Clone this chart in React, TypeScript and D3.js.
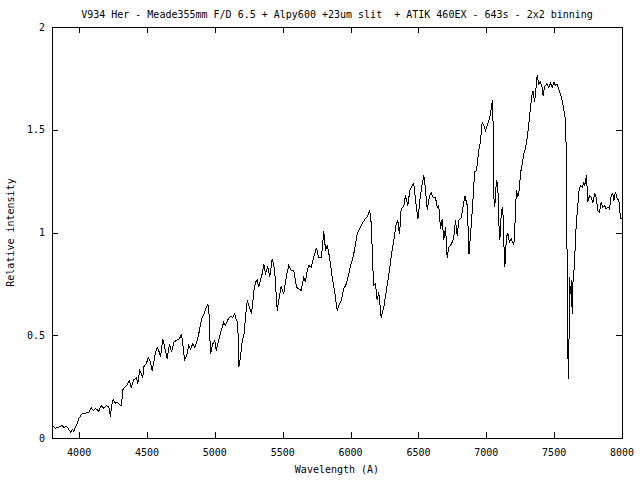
import React from 'react';
import * as d3 from 'd3';

const title = 'V934 Her - Meade355mm F/D 6.5 + Alpy600 +23um slit  + ATIK 460EX - 643s - 2x2 binning';
const xLabel = 'Wavelength (A)';
const yLabel = 'Relative intensity';

const xTicks = [4000, 4500, 5000, 5500, 6000, 6500, 7000, 7500, 8000];
const yTicks = [0, 0.5, 1, 1.5, 2];
const yTickLabels = ['0', '0.5', '1', '1.5', '2'];

const wavelengths = [
  3805, 3822, 3846, 3871, 3883, 3903, 3920, 3933, 3945, 3957, 3969, 3982, 3994, 4019, 4043, 4067,
  4085, 4100, 4117, 4141, 4159, 4178, 4198, 4215, 4227, 4235, 4247, 4264, 4277, 4301, 4308, 4318,
  4338, 4355, 4365, 4380, 4399, 4419, 4428, 4443, 4454, 4465, 4473, 4493, 4505, 4517, 4535, 4546,
  4554, 4571, 4583, 4596, 4613, 4627, 4645, 4662, 4677, 4694, 4711, 4736, 4750, 4760, 4773, 4792,
  4804, 4817, 4834, 4848, 4866, 4883, 4898, 4915, 4932, 4944, 4952, 4964, 4981, 4996, 5006, 5025,
  5043, 5062, 5075, 5095, 5112, 5128, 5143, 5156, 5165, 5173, 5185, 5198, 5210, 5227, 5235, 5251,
  5266, 5276, 5286, 5296, 5308, 5320, 5332, 5345, 5357, 5369, 5386, 5401, 5419, 5436, 5456, 5467,
  5485, 5504, 5524, 5541, 5559, 5578, 5598, 5615, 5632, 5652, 5664, 5677, 5688, 5706, 5725, 5745,
  5762, 5782, 5799, 5812, 5824, 5836, 5848, 5861, 5878, 5898, 5910, 5927, 5946, 5966, 5983, 5996,
  6008, 6025, 6045, 6064, 6082, 6099, 6119, 6136, 6143, 6150, 6160, 6167, 6180, 6192, 6204, 6222,
  6241, 6266, 6283, 6298, 6315, 6332, 6344, 6357, 6369, 6388, 6401, 6418, 6433, 6450, 6462, 6475,
  6492, 6511, 6524, 6536, 6543, 6561, 6578, 6590, 6605, 6622, 6635, 6646, 6659, 6671, 6683, 6696,
  6708, 6720, 6740, 6757, 6769, 6782, 6794, 6813, 6838, 6856, 6869, 6887, 6904, 6909, 6924, 6941,
  6954, 6966, 6978, 6990, 7003, 7015, 7027, 7040, 7044, 7047, 7052, 7059, 7071, 7081, 7088, 7096,
  7108, 7118, 7125, 7133, 7145, 7155, 7167, 7180, 7195, 7204, 7211, 7219, 7228, 7239, 7248, 7261,
  7273, 7285, 7298, 7310, 7322, 7334, 7342, 7351, 7359, 7371, 7383, 7396, 7408, 7415, 7425, 7440,
  7457, 7469, 7482, 7494, 7506, 7519, 7530, 7543, 7555, 7567, 7580, 7587, 7592, 7597, 7602, 7604,
  7609, 7617, 7624, 7629, 7637, 7646, 7653, 7661, 7670, 7678, 7690, 7703, 7715, 7722, 7735, 7744,
  7757, 7769, 7781, 7796, 7806, 7818, 7830, 7843, 7855, 7867, 7880, 7894, 7904, 7917, 7928, 7936,
  7948, 7961, 7973, 7980, 7987, 8000,
];

const intensities = [
  0.058, 0.050, 0.055, 0.063, 0.054, 0.060, 0.044, 0.031, 0.044, 0.036, 0.055, 0.073, 0.097, 0.122, 0.123, 0.128,
  0.151, 0.136, 0.146, 0.133, 0.161, 0.146, 0.161, 0.152, 0.107, 0.161, 0.188, 0.172, 0.177, 0.161, 0.161, 0.237,
  0.253, 0.266, 0.282, 0.250, 0.286, 0.295, 0.266, 0.331, 0.318, 0.295, 0.350, 0.366, 0.396, 0.380, 0.331, 0.371,
  0.404, 0.444, 0.428, 0.396, 0.485, 0.444, 0.388, 0.461, 0.420, 0.469, 0.477, 0.485, 0.509, 0.461, 0.380, 0.412,
  0.453, 0.436, 0.461, 0.444, 0.477, 0.526, 0.582, 0.603, 0.636, 0.652, 0.631, 0.412, 0.461, 0.477, 0.428, 0.477,
  0.526, 0.566, 0.550, 0.582, 0.594, 0.590, 0.607, 0.574, 0.566, 0.350, 0.396, 0.477, 0.501, 0.623, 0.672, 0.639,
  0.607, 0.663, 0.728, 0.761, 0.772, 0.736, 0.769, 0.801, 0.850, 0.803, 0.834, 0.785, 0.874, 0.826, 0.623, 0.672,
  0.740, 0.704, 0.793, 0.842, 0.818, 0.818, 0.736, 0.728, 0.720, 0.785, 0.761, 0.818, 0.842, 0.834, 0.882, 0.928,
  0.879, 0.882, 1.009, 0.915, 0.939, 0.902, 0.850, 0.785, 0.720, 0.623, 0.647, 0.672, 0.728, 0.753, 0.801, 0.842,
  0.866, 0.915, 0.996, 1.020, 1.045, 1.064, 1.080, 1.105, 1.093, 1.028, 0.834, 0.745, 0.753, 0.672, 0.710, 0.589,
  0.639, 0.745, 0.818, 0.899, 0.964, 1.045, 1.061, 0.993, 1.118, 1.129, 1.182, 1.134, 1.207, 1.231, 1.239, 1.163,
  1.066, 1.182, 1.239, 1.280, 1.246, 1.114, 1.182, 1.197, 1.173, 1.173, 1.124, 1.134, 1.022, 1.066, 0.968, 1.027,
  0.881, 0.931, 0.947, 0.978, 1.061, 0.988, 1.061, 1.077, 1.182, 1.134, 0.899, 1.051, 1.221, 1.296, 1.304, 1.401,
  1.450, 1.539, 1.523, 1.499, 1.523, 1.547, 1.580, 1.637, 1.645, 1.483, 1.174, 1.126, 1.255, 1.239, 1.061, 0.964,
  1.109, 1.126, 0.964, 0.834, 0.980, 0.999, 0.955, 0.972, 0.947, 0.964, 1.109, 1.207, 1.174, 1.207, 1.288, 1.337,
  1.385, 1.410, 1.466, 1.531, 1.612, 1.677, 1.693, 1.637, 1.677, 1.766, 1.726, 1.734, 1.709, 1.669, 1.709, 1.726,
  1.709, 1.729, 1.709, 1.734, 1.718, 1.723, 1.698, 1.677, 1.645, 1.604, 1.547, 1.353, 0.834, 0.396, 0.363, 0.290,
  0.785, 0.704, 0.769, 0.607, 0.801, 0.834, 0.964, 1.061, 1.126, 1.199, 1.231, 1.223, 1.247, 1.231, 1.280, 1.150,
  1.182, 1.174, 1.145, 1.191, 1.174, 1.109, 1.101, 1.150, 1.126, 1.134, 1.118, 1.126, 1.118, 1.182, 1.194, 1.158,
  1.199, 1.166, 1.158, 1.109, 1.069, 1.071,
];

const FONT = '"DejaVu Sans Mono", "Liberation Mono", monospace';

export default function App() {
  const W = 640;
  const H = 480;
  const left = 52, right = 622, top = 27, bottom = 438;
  const x = d3.scaleLinear().domain([3800, 8000]).range([left, right]);
  const y = d3.scaleLinear().domain([0, 2]).range([bottom, top]);
  const points: [number, number][] = wavelengths.map((w, i) => [w, intensities[i]]);
  const line = d3
    .line<[number, number]>()
    .x((d) => x(d[0]))
    .y((d) => y(d[1]));
  const tickLen = 6;
  const px = (v: number) => Math.round(v) + 0.5;

  return (
    <svg
      width={W}
      height={H}
      viewBox={`0 0 ${W} ${H}`}
      style={{ position: 'absolute', left: 0, top: 0, background: '#fff' }}
      fontFamily={FONT}
      fontSize={10}
    >
      <rect x={0} y={0} width={W} height={H} fill="#fff" />
      <text
        x={(left + right) / 2}
        y={18}
        textAnchor="middle"
        fill="#000"
        style={{ whiteSpace: 'pre' }}
        xmlSpace="preserve"
      >
        {title}
      </text>
      <g stroke="#000" strokeWidth={1} shapeRendering="crispEdges">
        {xTicks.map((t) => (
          <g key={`xt${t}`}>
            <line x1={px(x(t))} x2={px(x(t))} y1={bottom} y2={bottom - tickLen} />
            <line x1={px(x(t))} x2={px(x(t))} y1={top} y2={top + tickLen} />
          </g>
        ))}
        {yTicks.map((t) => (
          <g key={`yt${t}`}>
            <line x1={left} x2={left + tickLen} y1={px(y(t))} y2={px(y(t))} />
            <line x1={right} x2={right - tickLen} y1={px(y(t))} y2={px(y(t))} />
          </g>
        ))}
        <rect x={left + 0.5} y={top + 0.5} width={right - left} height={bottom - top} fill="none" />
      </g>
      <path
        d={line(points) || ''}
        fill="none"
        stroke="#000"
        strokeWidth={1}
        shapeRendering="crispEdges"
        transform="translate(0.5,0.5)"
      />
      {yTicks.map((t, i) => (
        <text key={`yl${t}`} x={45} y={y(t)} dy="0.35em" textAnchor="end" fill="#000">
          {yTickLabels[i]}
        </text>
      ))}
      {xTicks.map((t) => (
        <text key={`xl${t}`} x={x(t)} y={456} textAnchor="middle" fill="#000">
          {t}
        </text>
      ))}
      <text x={(left + right) / 2} y={473} textAnchor="middle" fill="#000">
        {xLabel}
      </text>
      <text
        transform={`translate(14, ${(top + bottom) / 2}) rotate(-90)`}
        textAnchor="middle"
        fill="#000"
      >
        {yLabel}
      </text>
    </svg>
  );
}
